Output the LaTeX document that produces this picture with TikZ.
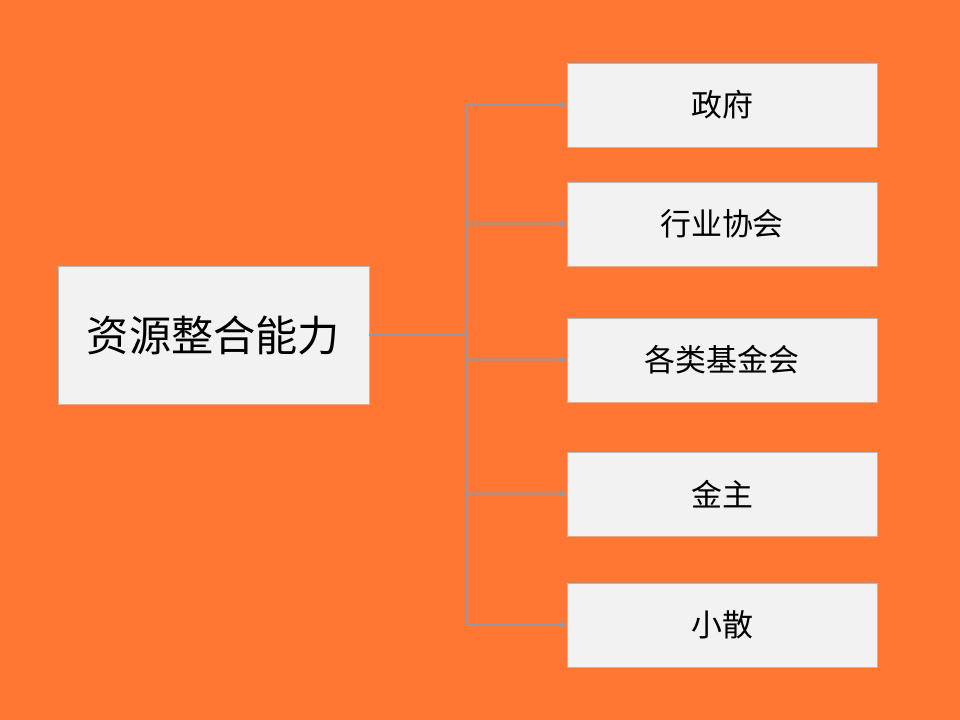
\documentclass[tikz,border=0pt]{standalone}
\usepackage{fontspec}
\newfontfamily\cjk{Noto Sans CJK SC}
\usetikzlibrary{arrows.meta}
\definecolor{bgorange}{HTML}{FF7733}
\definecolor{boxgray}{HTML}{F2F2F2}
\definecolor{edgegray}{HTML}{B8B8B8}
\definecolor{linegray}{HTML}{8E98A8}

\begin{document}
\begin{tikzpicture}[x=0.025cm, y=-0.025cm,
    box/.style={draw=edgegray, line width=0.5pt, fill=boxgray,
        minimum width=310*0.025cm, minimum height=84*0.025cm,
        inner sep=0pt, font=\cjk\fontsize{22}{26}\selectfont},
    mainbox/.style={box, minimum width=311*0.025cm, minimum height=138*0.025cm,
        font=\cjk\fontsize{30}{36}\selectfont},
    link/.style={draw=linegray, line width=1pt},
    linkarrow/.style={link, -{Stealth[length=2mm, width=1.6mm]}}]
    % 背景
    \fill[bgorange] (0,0) rectangle (960,720);
    \useasboundingbox (0,0) rectangle (960,720);

    % 左侧主框
    \node[mainbox] (main) at (213.5,335) {资源整合能力};

    % 右侧各框
    \node[box] (zf) at (722,105) {政府};
    \node[box] (xh) at (722,224) {行业协会};
    \node[box] (jjh) at (722,360) {各类基金会};
    \node[box] (jz) at (722,494) {金主};
    \node[box] (xs) at (722,625) {小散};

    % 连线
    \coordinate (fork) at (467,335);
    \draw[link] (main.east) -- (fork);
    \draw[link] (fork |- zf.west) -- (fork |- xs.west);
    \foreach \b in {zf, xh, jjh, jz, xs}
        \draw[linkarrow] (fork |- \b.west) -- (\b.west);
\end{tikzpicture}
\end{document}
